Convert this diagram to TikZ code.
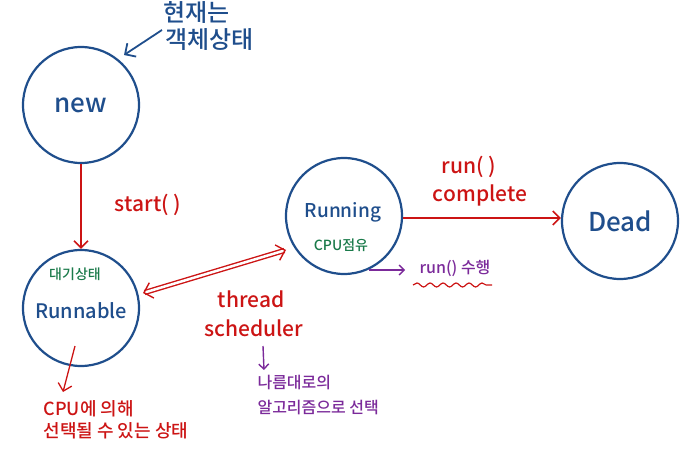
\documentclass[tikz,border=0pt]{standalone}
\usepackage{fontspec}
\setmainfont{Noto Sans CJK KR}[BoldFont={Noto Sans CJK KR Medium}]
\usetikzlibrary{arrows.meta,decorations.pathmorphing}
\definecolor{cblue}{HTML}{1F4E8C}
\definecolor{cred}{HTML}{CC1414}
\definecolor{cgreen}{HTML}{1A7A4A}
\definecolor{cpurple}{HTML}{7B2A9A}
\begin{document}
\begin{tikzpicture}[x=1pt,y=-1pt,
  state/.style={circle,draw=cblue,line width=2.2pt,minimum size=116pt,inner sep=0pt,text=cblue,font=\fontsize{26}{28}\selectfont\bfseries},
  redarrow/.style={draw=cred,line width=1.6pt,-{Straight Barb[length=7pt,width=14pt]}},
  purplearrow/.style={draw=cpurple,line width=1.4pt,-{Straight Barb[length=5pt,width=10pt]}},
  bluearrow/.style={draw=cblue,line width=1.8pt,-{Straight Barb[length=8pt,width=16pt]}},
  redtxt/.style={text=cred,font=\fontsize{21}{22}\selectfont\bfseries},
  redsmall/.style={text=cred,font=\fontsize{18}{22}\selectfont\bfseries,align=left},
  bluetxt/.style={text=cblue,font=\fontsize{24}{27}\selectfont\bfseries,align=left},
  greentxt/.style={text=cgreen,font=\fontsize{14}{14}\selectfont\bfseries},
  purpletxt/.style={text=cpurple,font=\fontsize{16}{25}\selectfont\bfseries,align=left}]
\useasboundingbox (0,0) rectangle (688,470);
\node[state] (new) at (81,105) {new};
\node[state] (runnable) at (81,308) {};
\node[text=cblue,font=\fontsize{20}{24}\selectfont\bfseries] (runnabletxt) at (81,311) {Runnable};
\node[greentxt] (wait) at (75,274) {대기상태};
\node[state] (running) at (344,216) {};
\node[text=cblue,font=\fontsize{19}{24}\selectfont\bfseries] (runningtxt) at (343,212) {Running};
\node[greentxt] (cpu) at (341,245) {CPU점유};
\node[state] (dead) at (620,221) {Dead};

% new -> runnable
\draw[redarrow] (new) -- (runnable);
\node[redtxt] (start) at (148,205) {start( )};

% running -> dead
\draw[redarrow] (running.east |- 0,218) coordinate (rd) -- (dead.west |- rd);
\node[redtxt] (run) at (469,167) {run( )};
\node[redtxt] (complete) at (480,195) {complete};

% double arrow
\coordinate (da) at (143,293);
\coordinate (db) at (286,250);
\draw[cred,line width=1.4pt,double=white,double distance=2.5pt,{Straight Barb[length=8pt,width=16pt]}-{Straight Barb[length=8pt,width=16pt]}] (da) -- (db);
\node[redtxt] (thread) at (251,299) {thread};
\node[redtxt] (sched) at (254,328) {scheduler};

% purple arrow below scheduler
\coordinate (ps) at (263,346);
\coordinate (pe) at (264,370);
\draw[purplearrow] (ps) -- (pe);
\node[purpletxt,anchor=north west] (algo) at (254,372) {나름대로의\\알고리즘으로 선택};

% runnable down arrow
\coordinate (ra) at (75,346);
\coordinate (rb) at (63,392);
\draw[redarrow,line width=1.3pt] (ra) -- (rb);
\node[redsmall,anchor=north west] (sel) at (40,397) {CPU에 의해\\선택될 수 있는 상태};

% running -> run() 수행
\coordinate (pa) at (369,270);
\coordinate (pb) at (405,270);
\draw[purplearrow] (pa) -- (pb);
\node[purpletxt] (runexec) at (455,268) {run() 수행};
\coordinate (wa) at (413,285);
\coordinate (wb) at (492,285);
\draw[cred,line width=1.2pt,decorate,decoration={snake,amplitude=2pt,segment length=13pt}] (wa) -- (wb);

% top note
\coordinate (ba) at (162,30);
\coordinate (bb) at (124,55);
\draw[bluearrow] (ba) -- (bb);
\node[bluetxt,anchor=north west] (note) at (160,-2) {현재는\\\hspace*{2pt}객체상태};
\end{tikzpicture}
\end{document}
